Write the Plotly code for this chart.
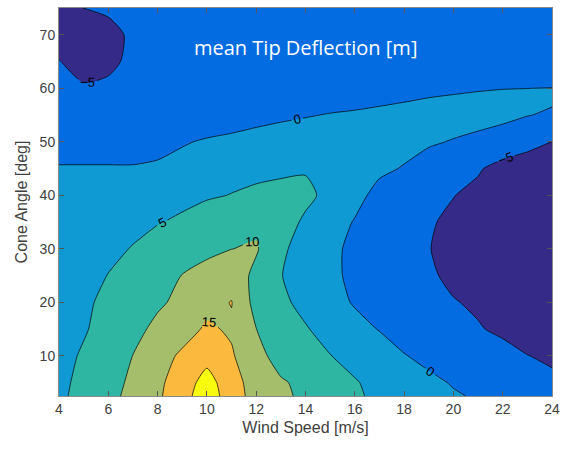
import plotly.graph_objects as go

# Grid of the parameter sweep
wind_speed = [4, 5, 6, 7, 8, 9, 10, 11, 12, 13, 14, 15, 16, 17, 18, 19, 20, 21, 22, 23, 24]
cone_angle = [2.5, 5, 10, 15, 20, 25, 30, 35, 40, 45, 50, 55, 57.5, 60, 65, 70, 75]

# Mean tip deflection [m]; one row per cone angle, one column per wind speed
defl_02_5 = [4.3, 6.2, 8.5, 11.5, 14.2, 18.2, 22.7, 17.5, 13.0, 10.8, 9.2, 7.3, 5.6, 4.1, 2.7, 1.5, 0.4, -0.4, -1.3, -2.1, -3.0]
defl_05_0 = [4.1, 6.0, 8.3, 10.9, 14.0, 17.4, 22.0, 17.0, 12.8, 10.5, 8.9, 7.0, 5.3, 3.8, 2.3, 0.9, -0.3, -1.4, -2.5, -3.5, -4.5]
defl_10_0 = [3.6, 5.5, 7.7, 10.05, 13.0, 15.8, 18.3, 15.5, 11.5, 8.2, 6.6, 5.1, 3.7, 2.2, 0.2, -1.1, -2.2, -3.2, -4.1, -4.95, -5.4]
defl_15_0 = [3.0, 4.6, 6.6, 9.0, 10.8, 13.0, 15.7, 14.4, 10.05, 7.6, 5.3, 3.5, 1.5, -0.2, -1.8, -3.0, -4.0, -4.8, -5.5, -6.1, -6.6]
defl_20_0 = [2.5, 4.1, 6.2, 8.2, 9.5, 10.8, 13.6, 15.15, 8.3, 5.8, 3.9, 1.7, -0.4, -1.8, -3.0, -4.1, -4.85, -5.4, -6.6, -7.2, -7.6]
defl_25_0 = [2.0, 3.6, 5.1, 6.7, 8.5, 10.1, 11.5, 13.0, 8.7, 5.2, 2.4, 0.7, -0.7, -1.8, -3.2, -4.6, -5.6, -6.6, -7.4, -8.0, -8.4]
defl_30_0 = [1.5, 2.8, 4.1, 5.2, 6.6, 7.9, 9.0, 9.95, 10.5, 5.5, 3.83, 1.0, -1.0, -2.5, -3.8, -4.9, -6.0, -7.0, -7.8, -8.4, -8.8]
defl_35_0 = [0.9, 1.9, 2.9, 4.0, 4.8, 5.6, 6.8, 8.0, 8.94, 7.0, 4.3, 1.5, -0.2, -1.9, -3.3, -4.6, -5.8, -6.9, -7.7, -8.3, -8.7]
defl_40_0 = [0.6, 1.3, 2.0, 2.7, 3.3, 4.0, 4.6, 5.1, 5.6, 6.0, 6.0, 3.8, 1.0, -1.0, -2.6, -3.9, -4.9, -6.0, -6.9, -7.5, -7.9]
defl_45_0 = [0.15, 0.15, 0.15, 0.15, 0.4, 1.0, 2.6, 3.9, 4.2, 4.4, 4.65, 3.8, 2.2, 0.6, -0.2, -1.5, -2.9, -4.6, -6.4, -7.0, -6.9]
defl_50_0 = [-0.9, -0.9, -0.9, -0.9, -0.85, -0.25, 0.3, 0.7, 1.1, 1.5, 1.8, 2.0, 1.9, 1.6, 1.0, 0.4, -0.2, -1.2, -2.3, -3.8, -5.05]
defl_55_0 = [-2.4, -2.6, -2.5, -2.4, -2.2, -2.0, -1.8, -1.5, -0.95, -0.55, -0.2, 0.15, 0.4, 0.65, 0.9, 1.4, 1.47, 1.8, 1.18, 0.16, -0.6]
defl_57_5 = [-3.3, -3.6, -3.4, -3.1, -2.9, -2.7, -2.5, -2.2, -1.8, -1.5, -1.2, -0.9, -0.7, -0.35, -0.04, 0.25, 0.45, 0.55, 0.58, 0.5, 0.4]
defl_60_0 = [-4.2, -4.85, -4.57, -4.0, -3.7, -3.4, -3.1, -2.8, -2.5, -2.2, -1.9, -1.6, -1.3, -1.0, -0.8, -0.6, -0.4, -0.18, -0.05, -0.01, 0.05]
defl_65_0 = [-4.95, -5.6, -5.5, -4.5, -4.1, -3.8, -3.5, -3.2, -3.0, -2.8, -2.6, -2.5, -2.4, -2.3, -2.3, -2.3, -2.3, -2.4, -2.4, -2.5, -2.5]
defl_70_0 = [-5.57, -5.8, -5.7, -4.6, -4.2, -3.9, -3.6, -3.4, -3.2, -3.0, -2.9, -2.8, -2.8, -2.8, -2.8, -2.8, -2.9, -2.9, -3.0, -3.0, -3.1]
defl_75_0 = [-5.6, -4.98, -4.64, -4.0, -3.8, -3.6, -3.4, -3.3, -3.2, -3.1, -3.0, -3.0, -3.0, -3.0, -3.0, -3.0, -3.1, -3.1, -3.2, -3.2, -3.3]

deflection = [
    defl_02_5, defl_05_0, defl_10_0, defl_15_0, defl_20_0, defl_25_0,
    defl_30_0, defl_35_0, defl_40_0, defl_45_0, defl_50_0, defl_55_0,
    defl_57_5, defl_60_0, defl_65_0, defl_70_0, defl_75_0,
]

x_ticks = [4, 6, 8, 10, 12, 14, 16, 18, 20, 22, 24]
y_ticks = [10, 20, 30, 40, 50, 60, 70]

# Parula-like band colours: <-5, -5..0, 0..5, 5..10, 10..15, 15..20, >20
band_colors = ["#352A87", "#036CE1", "#0F9AD4", "#2EB6A2", "#A5BE6B", "#FBBA3E", "#F9FB0E"]
edges = [0, 1 / 6, 1 / 3, 1 / 2, 2 / 3, 5 / 6, 0.95, 1]
colorscale = []
for i, c in enumerate(band_colors):
    colorscale.append([edges[i], c])
    colorscale.append([edges[i + 1], c])

fig = go.Figure(
    go.Contour(
        x=wind_speed,
        y=cone_angle,
        z=deflection,
        colorscale=colorscale,
        showscale=False,
        contours=dict(
            start=-5,
            end=20,
            size=5,
            coloring="fill",
            showlabels=True,
            labelfont=dict(family="Liberation Sans, Arial", size=13, color="black"),
        ),
        line=dict(color="black", width=0.7, smoothing=0.6),
        hoverinfo="skip",
    )
)

axis_common = dict(
    showgrid=False,
    zeroline=False,
    ticks="inside",
    ticklen=5,
    tickcolor="#555555",
    showline=True,
    linecolor="#8a8a8a",
    linewidth=1,
    mirror="ticks",
    tickfont=dict(family="Liberation Sans, Arial", size=14, color="#404040"),
)

fig.update_xaxes(
    range=[4, 24],
    tickvals=x_ticks,
    title=dict(text="Wind Speed [m/s]", font=dict(family="Liberation Sans, Arial", size=16, color="#404040"), standoff=6),
    **axis_common,
)
fig.update_yaxes(
    range=[2.5, 75],
    tickvals=y_ticks,
    title=dict(text="Cone Angle [deg]", font=dict(family="Liberation Sans, Arial", size=16, color="#404040"), standoff=8),
    **axis_common,
)

fig.add_annotation(
    text="mean Tip Deflection [m]",
    xref="paper", yref="paper",
    x=0.499, y=0.897,
    xanchor="center", yanchor="middle",
    showarrow=False,
    font=dict(family="Open Sans", size=20, color="white"),
)

fig.update_layout(
    width=569,
    height=450,
    margin=dict(l=59, r=17, t=8, b=54),
    paper_bgcolor="white",
    plot_bgcolor="white",
)

fig.write_html("out.html")
